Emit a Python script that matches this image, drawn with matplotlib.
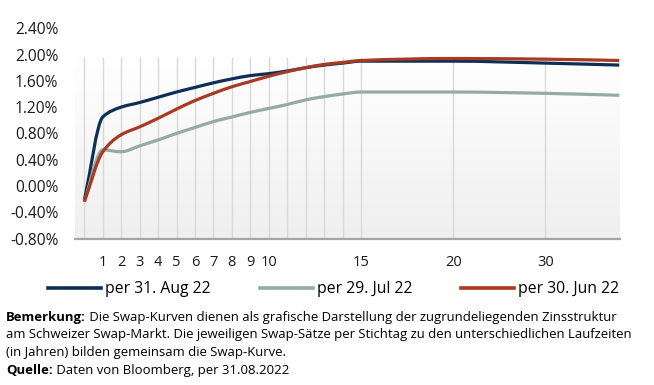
import numpy as np
import matplotlib
matplotlib.use("Agg")
import matplotlib.pyplot as plt
from matplotlib.lines import Line2D
from matplotlib.path import Path
from matplotlib.patches import PathPatch
from matplotlib.colors import LinearSegmentedColormap

plt.rcParams['font.family'] = ['Open Sans', 'DejaVu Sans']

# ---------------- data ----------------
tenors = [0, 1, 2, 3, 4, 5, 6, 7, 8, 9, 10, 11, 12, 13, 14, 15, 20, 30, 38]
aug22 = [-0.22, 1.05, 1.20, 1.27, 1.35, 1.43, 1.50, 1.57, 1.63, 1.68, 1.71,
         1.75, 1.80, 1.84, 1.87, 1.90, 1.90, 1.87, 1.84]
jul22 = [-0.24, 0.55, 0.52, 0.61, 0.70, 0.80, 0.89, 0.98, 1.05, 1.12, 1.18,
         1.24, 1.31, 1.36, 1.40, 1.43, 1.43, 1.41, 1.38]
jun22 = [-0.24, 0.52, 0.78, 0.90, 1.03, 1.17, 1.30, 1.41, 1.51, 1.59, 1.67,
         1.74, 1.80, 1.85, 1.88, 1.91, 1.94, 1.93, 1.91]
series_labels = ["per 31. Aug 22", "per 29. Jul 22", "per 30. Jun 22"]
colors = ["#0d2f55", "#93aca1", "#a63a22"]

xtick_vals = [1, 2, 3, 4, 5, 6, 7, 8, 9, 10, 15, 20, 30]
grid_vals = [0, 1, 2, 3, 4, 5, 6, 7, 8, 9, 10, 11, 12, 13, 14, 15, 20, 30]
ytick_vals = [-0.8, -0.4, 0.0, 0.4, 0.8, 1.2, 1.6, 2.0, 2.4]

note_bold = "Bemerkung:"
note_lines = [" Die Swap-Kurven dienen als grafische Darstellung der zugrundeliegenden Zinsstruktur",
              "am Schweizer Swap-Markt. Die jeweiligen Swap-Sätze per Stichtag zu den unterschiedlichen Laufzeiten",
              "(in Jahren) bilden gemeinsam die Swap-Kurve."]
src_bold = "Quelle:"
src_text = " Daten von Bloomberg, per 31.08.2022"

# ---------------- figure ----------------
W, H = 654, 385
fig = plt.figure(figsize=(W / 100, H / 100), dpi=100)
ax_left, ax_right, ax_bottom, ax_top = 75.1, 620.0, 238.5, 28.3
ax = fig.add_axes([ax_left / W, 1 - ax_bottom / H, (ax_right - ax_left) / W, (ax_bottom - ax_top) / H])


def fwd(t):
    t = np.asarray(t, dtype=float)
    return np.where(t <= 20, t, 20 + (t - 20) / 2.0)


def inv(p):
    p = np.asarray(p, dtype=float)
    return np.where(p <= 20, p, 20 + (p - 20) * 2.0)


ax.set_xscale('function', functions=(fwd, inv))


def smooth_path(xs, ys):
    """Monotone cubic (PCHIP-style) Bezier path through the data points, built in scale space."""
    p = fwd(xs)
    y = np.asarray(ys, dtype=float)
    h = np.diff(p)
    d = np.diff(y) / h
    n = len(p)
    m = np.zeros(n)
    for i in range(1, n - 1):
        if d[i - 1] * d[i] <= 0:
            m[i] = 0.0
        else:
            w1 = 2 * h[i] + h[i - 1]
            w2 = h[i] + 2 * h[i - 1]
            m[i] = (w1 + w2) / (w1 / d[i - 1] + w2 / d[i])
    m[0] = d[0]
    m[-1] = d[-1]
    verts = [(p[0], y[0])]
    codes = [Path.MOVETO]
    for i in range(n - 1):
        c1 = (p[i] + h[i] / 3, y[i] + m[i] * h[i] / 3)
        c2 = (p[i + 1] - h[i] / 3, y[i + 1] - m[i + 1] * h[i] / 3)
        verts += [c1, c2, (p[i + 1], y[i + 1])]
        codes += [Path.CURVE4] * 3
    verts = np.array(verts)
    verts[:, 0] = inv(verts[:, 0])
    return Path(verts, codes)


# gradient plot background
top_frac = (ax_bottom - 57.0) / (ax_bottom - ax_top)
cmap = LinearSegmentedColormap.from_list("bg", ["#ffffff", "#efefef"])
grad = np.linspace(0, 1, 256).reshape(-1, 1)
ax.imshow(grad, extent=(0, 1, 0, top_frac), transform=ax.transAxes, aspect='auto',
          cmap=cmap, origin='upper', zorder=0, interpolation='bilinear')

ymin, ymax = -0.8, 2.4
grid_top = ymin + top_frac * (ymax - ymin)
ax.vlines(grid_vals, ymin, grid_top, colors="#d9d9d9", lw=1.0, zorder=1)

for vals, c in zip([aug22, jul22, jun22], colors):
    patch = PathPatch(smooth_path(tenors, vals), facecolor='none', edgecolor=c, lw=2.3,
                      capstyle='butt', joinstyle='round', zorder=3, transform=ax.transData)
    ax.add_patch(patch)

ax.set_xlim(-0.5, 38.08)
ax.set_ylim(ymin, ymax)

for s in ['top', 'right', 'left']:
    ax.spines[s].set_visible(False)
ax.spines['bottom'].set_color("#a6a6a6")
ax.spines['bottom'].set_linewidth(1.6)
ax.spines['bottom'].set_zorder(4)

ax.set_xticks(xtick_vals)
ax.set_xticklabels([str(v) for v in xtick_vals])
ax.xaxis.set_minor_locator(matplotlib.ticker.NullLocator())
ax.set_yticks(ytick_vals)
ax.set_yticklabels([f"{v:.2f}%" for v in ytick_vals])
ax.tick_params(axis='x', length=0, pad=12, labelsize=10.5, labelcolor="#1a1a1a")
ax.tick_params(axis='y', length=0, pad=12, labelsize=11.2, labelcolor="#1a1a1a")
ax.set_facecolor("white")

# legend
handles = [Line2D([], [], color=c, lw=2.6) for c in colors]
fig.legend(handles, series_labels, loc='center', bbox_to_anchor=(333.7 / W, 1 - 289 / H),
           ncol=3, frameon=False, fontsize=11.3, handlelength=3.4, handletextpad=0.25,
           columnspacing=3.1, borderpad=0, borderaxespad=0)

# footnotes
fs = 9.45
x0 = 6.0 / W
baselines = [320.5, 338.3, 356.2, 374.0]
t1 = fig.text(x0, 1 - baselines[0] / H, note_bold, fontsize=fs, fontweight='bold', va='baseline', ha='left')
fig.add_artist(matplotlib.text.Annotation(note_lines[0], xy=(1, 1 - baselines[0] / H),
                                          xycoords=(t1, 'figure fraction'), va='baseline', ha='left',
                                          fontsize=fs))
fig.text(x0, 1 - baselines[1] / H, note_lines[1], fontsize=fs, va='baseline', ha='left')
fig.text(x0, 1 - baselines[2] / H, note_lines[2], fontsize=fs, va='baseline', ha='left')
t4 = fig.text(x0, 1 - baselines[3] / H, src_bold, fontsize=fs, fontweight='bold', va='baseline', ha='left')
fig.add_artist(matplotlib.text.Annotation(src_text, xy=(1, 1 - baselines[3] / H),
                                          xycoords=(t4, 'figure fraction'), va='baseline', ha='left',
                                          fontsize=fs))

fig.savefig("out.png", dpi=100)
